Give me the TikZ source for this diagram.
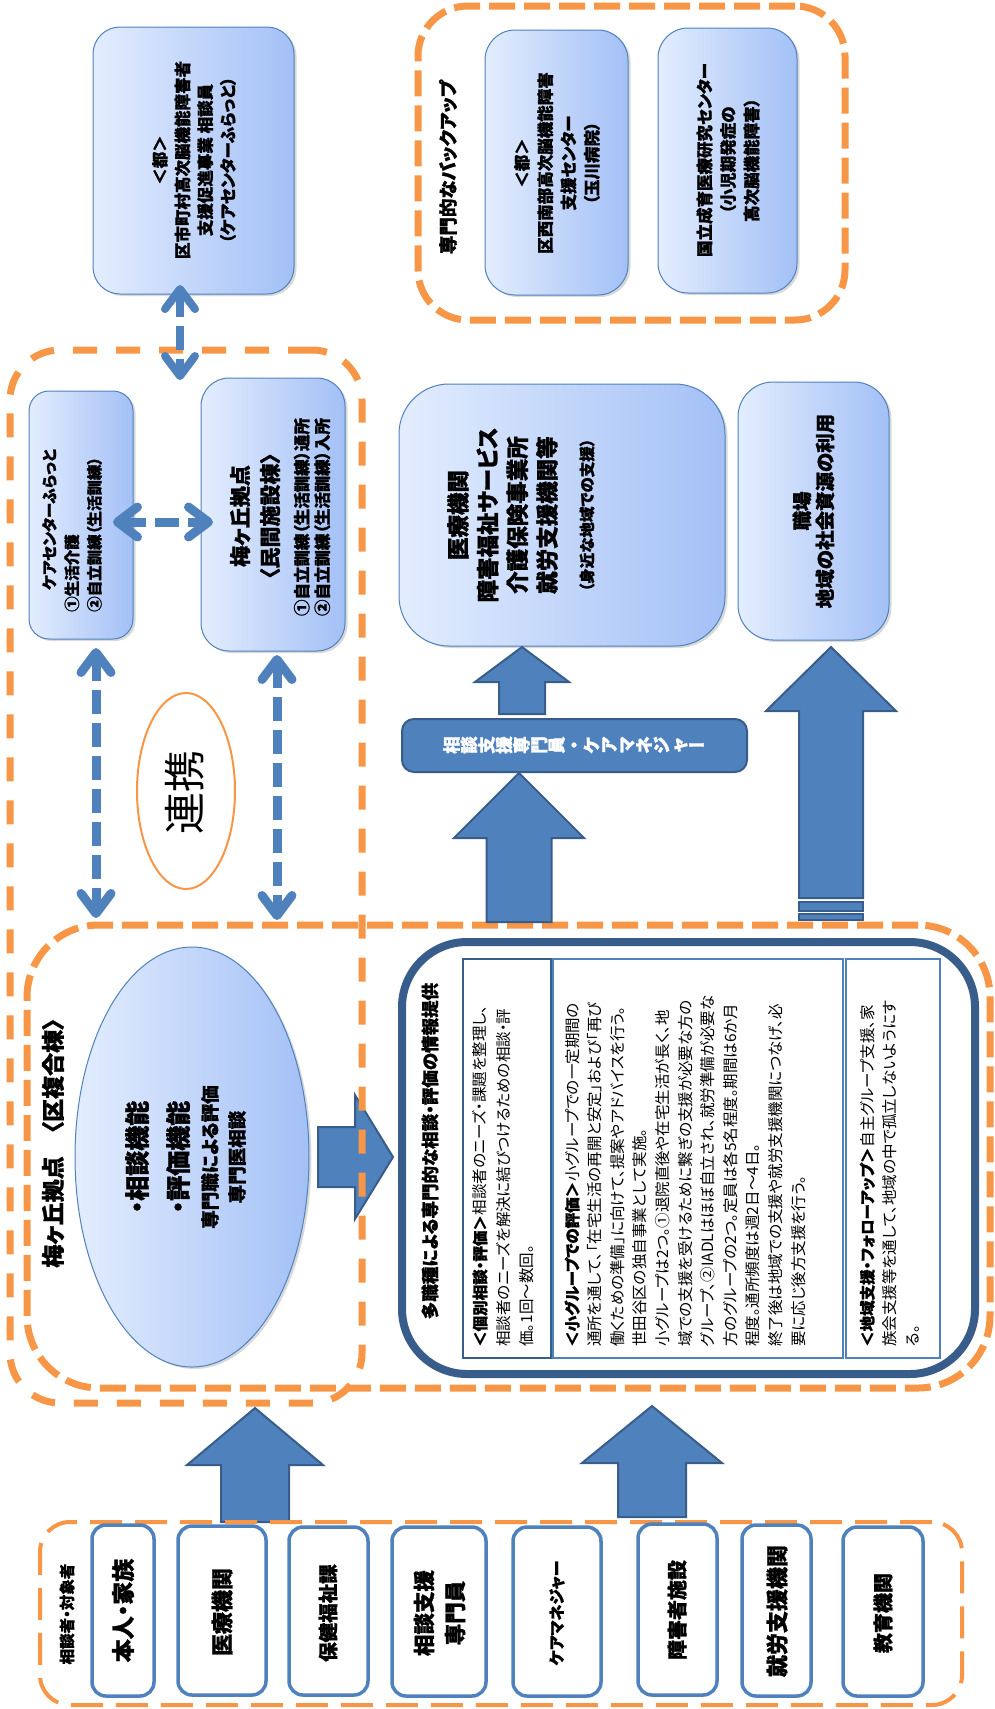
\documentclass[tikz,border=0pt]{standalone}
\usepackage{fontspec}
\usepackage{graphicx}
\setmainfont{Noto Sans CJK JP}[RawFeature=+palt, BoldFeatures={FakeBold=1.2}]
\newfontfamily\jpmono{Noto Sans CJK JP}[BoldFeatures={FakeBold=1.2}]
\usetikzlibrary{arrows.meta,shadows,shapes.geometric}
\definecolor{org}{HTML}{F79646}
\definecolor{bfill}{HTML}{4F81BD}
\definecolor{bdark}{HTML}{385D8A}
\definecolor{gl}{HTML}{E3EDFE}
\definecolor{gr}{HTML}{A3C0F6}
\definecolor{gline}{HTML}{4F81BD}
\newcommand\fs[2]{\fontsize{#1}{#2}\selectfont}
\newcommand\rch[1]{\rotatebox[origin=c]{90}{\makebox[1em]{\rule[-0.12em]{0pt}{1em}#1}}}
\newcommand\blkup[6]{%
  \draw[blk] (#1,#2) -- (#1+#5,#3) -- (#1+#6,#3) -- (#1+#6,#4) -- (#1-#6,#4) -- (#1-#6,#3) -- (#1-#5,#3) -- cycle;}
\begin{document}
\begin{tikzpicture}[x=1pt,y=-1pt,
  gbox/.style={rectangle, draw=gline, line width=1pt, left color=gl, right color=gr,
     drop shadow={shadow xshift=2.5pt, shadow yshift=-2pt, opacity=0.3}, inner sep=0pt},
  odash/.style={rectangle, draw=org, line width=7pt, dash pattern=on 26pt off 9pt, inner sep=0pt},
  wbox/.style={rectangle, draw=bfill, line width=3.5pt, rounded corners=14pt, fill=white, inner sep=0pt},
  vt/.style={rotate=90, inner sep=0pt, align=center},
  vtl/.style={rotate=90, inner sep=0pt, align=left},
  dbl/.style={draw=bfill, line width=9pt, dash pattern=on 24pt off 9pt,
     {Straight Barb[length=20pt,width=30pt,round]}-{Straight Barb[length=20pt,width=30pt,round]}},
  blk/.style={fill=bfill, draw=bdark, line width=2pt, line join=miter}
]
\useasboundingbox (0,0) rectangle (994,1709);

% right arrow from ellipse to big box (below dashed lines)
\draw[blk] (318,1127) -- (355,1127) -- (355,1095) -- (393,1157) -- (355,1219) -- (355,1187) -- (318,1187) -- cycle;

% dashed regions
\node[odash, dash pattern=on 24pt off 19pt, rounded corners=50pt, minimum width=352pt, minimum height=1053pt] (outer) at (186,876.5) {};
\node[odash, rounded corners=72pt, minimum width=963pt, minimum height=463pt] (fukugo) at (508.5,1156.5) {};
\node[odash, rounded corners=50pt, minimum width=427pt, minimum height=314pt] (backup) at (631.5,163) {};

% top-left box
\node[gbox, rounded corners=27pt, minimum width=201pt, minimum height=267pt] (tobox) at (193.5,160.5) {};
\node[vt, font=\bfseries\fs{16.5}{22.7}] (totext) at (194,160) {＜都＞\\区市町村高次脳機能障害者\\支援促進事業 相談員\\（ケアセンターふらっと）};

% backup
\node[vt, font=\bfseries\fs{18.5}{20}] (backuplbl) at (448,167) {専門的なバックアップ};
\node[gbox, rounded corners=30pt, minimum width=143pt, minimum height=265pt] (boxA) at (556.5,162.5) {};
\node[vt, font=\bfseries\fs{16.5}{23.3}] (boxAtext) at (557,163) {＜都＞\\区西南部高次脳機能障害\\支援センター\\（玉川病院）};
\node[gbox, rounded corners=30pt, minimum width=139pt, minimum height=265pt] (boxB) at (727.5,160.5) {};
\node[vt, font=\bfseries\fs{16.5}{23.5}] (boxBtext) at (728,160) {国立成育医療研究センター\\（小児期発症の\\高次脳機能障害）};

% upper-left boxes
\node[gbox, rounded corners=20pt, minimum width=104pt, minimum height=248pt] (care) at (81,515) {};
\node[vtl, font=\bfseries\fs{15.5}{22.5}, anchor=west] (caretext) at (72,612) {\hspace*{22pt}ケアセンターふらっと\\①生活介護\\②自立訓練（生活訓練）};
\node[gbox, rounded corners=28pt, minimum width=144pt, minimum height=273pt] (minkan) at (273,514.5) {};
\node[vt, font=\bfseries\fs{21}{30}] (minkantitle) at (255,516) {梅ヶ丘拠点\\〈民間施設棟〉};
\node[vt, font=\bfseries\fs{16.5}{20.5}] (minkansub) at (312,517) {①自立訓練（生活訓練）通所\\②自立訓練（生活訓練）入所};

% renkei
\node[ellipse, draw=org, line width=2pt, fill=white, minimum width=98pt, minimum height=196pt, inner sep=0pt] (renkei) at (186,791) {};
\node[vt, font=\fs{42}{44}] (renkeitext) at (185,792) {連携};

% dashed double arrows
\coordinate (a1s) at (180,285); \coordinate (a1e) at (180,380);
\draw[dbl, line width=8pt] (a1s) -- (a1e);
\coordinate (a2s) at (113,522); \coordinate (a2e) at (213,522);
\draw[dbl] (a2s) -- (a2e);
\coordinate (a3s) at (96,648); \coordinate (a3e) at (96,918);
\draw[dbl] (a3s) -- (a3e);
\coordinate (a4s) at (277,655); \coordinate (a4e) at (277,920);
\draw[dbl] (a4s) -- (a4e);

% right column boxes
\node[gbox, rounded corners=50pt, minimum width=326pt, minimum height=262pt] (iryo) at (562,515) {};
\node[vt, font=\bfseries\fs{22.5}{29.7}] (iryotext) at (502.5,515) {医療機関\\障害福祉サービス\\介護保険事業所\\就労支援機関等};
\node[vt, font=\bfseries\fs{15.5}{17}] (iryosub) at (587,515) {（身近な地域での支援）};
\node[gbox, rounded corners=35pt, minimum width=151pt, minimum height=258pt] (shokuba) at (813.5,511) {};
\node[vt, font=\bfseries\fs{19.5}{23}] (shokubatext) at (813.5,511) {職場\\地域の社会資源の利用};

% bar
\node[rectangle, fill=bfill, draw=bdark, line width=2pt, rounded corners=12pt, minimum width=345pt, minimum height=53pt, inner sep=0pt] (bar) at (574.5,745.5) {};
\node[inner sep=0pt, text=white, font=\jpmono\bfseries\fs{17.5}{20}] (bartext) at (574,745) {\rch{相}\rch{談}\rch{支}\rch{援}\rch{専}\rch{門}\rch{員}\rch{・}\rch{ケ}\rch{ア}\rch{マ}\rch{ネ}\rch{ジ}\rch{ャ}\makebox[1em]{ー}};

% block arrows
\blkup{522}{647}{682}{714}{47}{23}
\blkup{519}{773}{838}{922}{65}{32.5}
\blkup{831}{647}{711}{898}{65}{32}
\draw[blk] (799,902) rectangle (863,911);
\draw[blk] (799,914) rectangle (863,920);
\blkup{255}{1408}{1465}{1522}{68}{34}
\blkup{652}{1406}{1463}{1517}{70}{34}

% fukugo content
\node[vt, font=\bfseries\fs{23}{24}] (fukugolbl) at (53,1143) {梅ヶ丘拠点　〈区複合棟〉};
\node[gbox, ellipse, minimum width=234pt, minimum height=420pt] (func) at (192,1157) {};
\node[vt, font=\bfseries\fs{25}{41}] (functitle) at (157.5,1157) {・相談機能\\・評価機能};
\node[vt, font=\bfseries\fs{18.5}{27}] (funcsub) at (223.5,1157) {専門職による評価\\専門医相談};

\node[rectangle, draw=bdark, line width=8pt, rounded corners=65pt, fill=white, minimum width=573pt, minimum height=432pt, inner sep=0pt] (bigbox) at (688.5,1158) {};
\node[vt, font=\bfseries\fs{17.5}{20}] (bigtitle) at (430,1151) {多職種による専門的な相談・評価の情報提供};
\node[rectangle, draw=bdark, line width=2.5pt, minimum width=88pt, minimum height=399pt, inner sep=0pt] (sb1) at (507,1158.5) {};
\node[rectangle, draw=bfill, line width=2.5pt, minimum width=290pt, minimum height=399pt, inner sep=0pt] (sb2) at (698,1158.5) {};
\node[rectangle, draw=bfill, line width=2.5pt, minimum width=94pt, minimum height=399pt, inner sep=0pt] (sb3) at (893,1158.5) {};
\node[vtl, anchor=west, font=\fs{15.5}{23.5}] (sb1text) at (503.5,1347) {{\bfseries ＜個別相談・評価＞}相談者のニーズ・課題を整理し、\\相談者のニーズを解決に結びつけるための相談・評\\価。1回～数回。};
\node[vtl, anchor=west, font=\fs{15.5}{22.6}] (sb2text) at (685,1347) {{\bfseries ＜小グループでの評価＞}小グループでの一定期間の\\通所を通して、「在宅生活の再開と安定」および「再び\\働くための準備」に向けて、提案やアドバイスを行う。\\世田谷区の独自事業として実施。\\小グループは2つ。①退院直後や在宅生活が長く、地\\域での支援を受けるために繋ぎの支援が必要な方の\\グループ、②IADLはほぼ自立され、就労準備が必要な\\方のグループの2つ。定員は各5名程度。期間は6か月\\程度。通所頻度は週2日～4日。\\終了後は地域での支援や就労支援機関につなげ、必\\要に応じ後方支援を行う。};
\node[vtl, anchor=west, font=\fs{15.5}{22.5}] (sb3text) at (889.5,1347) {{\bfseries ＜地域支援・フォローアップ＞}自主グループ支援、家\\族会支援等を通して、地域の中で孤立しないようにす\\る。};

% bottom panel
\node[rectangle, draw=org, line width=4pt, dash pattern=on 32pt off 13pt, rounded corners=30pt, minimum width=922pt, minimum height=183pt, inner sep=0pt] (panel) at (501,1613.5) {};
\node[vt, font=\bfseries\fs{15.5}{17}] (panellbl) at (67,1614) {相談者・対象者};
\node[wbox, minimum width=62pt, minimum height=171pt] (p1) at (123,1610.5) {};
\node[vt, font=\bfseries\fs{23}{24}] at (p1) {本人・家族};
\node[wbox, minimum width=88pt, minimum height=169pt] (p2) at (222,1610.5) {};
\node[vt, font=\bfseries\fs{22}{24}] at (222,1612) {医療機関};
\node[wbox, minimum width=79pt, minimum height=168pt] (p3) at (328.5,1611) {};
\node[vt, font=\bfseries\fs{19.5}{22}] at (328,1613) {保健福祉課};
\node[wbox, minimum width=94pt, minimum height=169pt] (p4) at (439,1611.5) {};
\node[vt, font=\bfseries\fs{21.5}{31}] at (439.5,1613) {相談支援\\専門員};
\node[wbox, minimum width=88pt, minimum height=169pt] (p5) at (557,1611.5) {};
\node[vt, font=\bfseries\fs{16}{17}] at (557,1613) {ケアマネジャー};
\node[wbox, minimum width=79pt, minimum height=171pt] (p6) at (677.5,1609.5) {};
\node[vt, font=\bfseries\fs{20}{22}] at (677,1610) {障害者施設};
\node[wbox, minimum width=69pt, minimum height=171pt] (p7) at (776.5,1610.5) {};
\node[vt, font=\bfseries\fs{22}{24}] at (777,1611) {就労支援機関};
\node[wbox, minimum width=80pt, minimum height=169pt] (p8) at (883,1611.5) {};
\node[vt, font=\bfseries\fs{20}{22}] at (883,1613) {教育機関};
\end{tikzpicture}
\end{document}
